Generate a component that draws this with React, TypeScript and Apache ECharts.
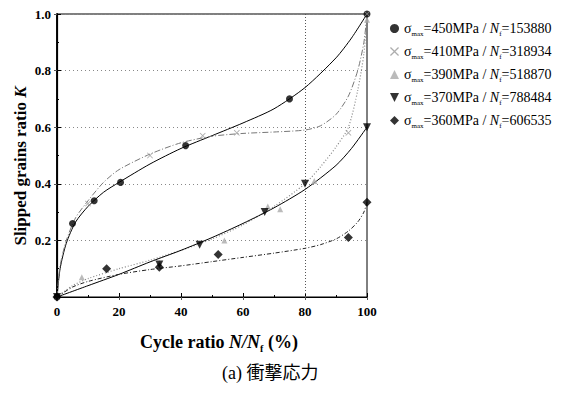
import React, { useEffect, useRef } from "react";
import * as echarts from "echarts";

// ---- data ----
const stressLabels = ["450", "410", "390", "370", "360"];
const nfLabels = ["153880", "318934", "518870", "788484", "606535"];

const pts450: number[][] = [[0, 0], [5, 0.26], [12, 0.34], [20.5, 0.405], [41.5, 0.535], [75, 0.70], [100, 1.0]];
const pts410: number[][] = [[0, 0], [10, 0.33], [30, 0.50], [47, 0.57], [58, 0.58], [94, 0.58], [100, 1.0]];
const pts390: number[][] = [[0, 0], [8, 0.07], [33, 0.12], [54, 0.20], [68, 0.32], [72, 0.31], [83, 0.41], [100, 0.98]];
const pts370: number[][] = [[0, 0], [33, 0.115], [46, 0.185], [67, 0.30], [80, 0.40], [100, 0.60]];
const pts360: number[][] = [[0, 0], [16, 0.10], [33, 0.105], [52, 0.15], [94, 0.21], [100, 0.335]];

// fitted curves, read at sample positions
const fit450: number[][] = [[0, 0], [1, 0.10], [3, 0.19], [6, 0.265], [10, 0.32], [15, 0.37], [20, 0.405], [30, 0.47], [40, 0.525], [50, 0.57], [60, 0.615], [70, 0.665], [80, 0.74], [90, 0.845], [95, 0.915], [100, 1.0]];
const fit410: number[][] = [[0, 0], [1, 0.11], [3, 0.20], [6, 0.28], [10, 0.34], [15, 0.405], [20, 0.45], [30, 0.505], [40, 0.545], [50, 0.568], [60, 0.578], [70, 0.583], [80, 0.59], [85, 0.605], [90, 0.645], [94, 0.71], [97, 0.80], [99, 0.90], [100, 1.0]];
const fit390: number[][] = [[0, 0], [5, 0.04], [10, 0.065], [20, 0.10], [30, 0.13], [40, 0.165], [50, 0.205], [60, 0.255], [70, 0.32], [80, 0.40], [85, 0.46], [90, 0.53], [94, 0.60], [97, 0.73], [99, 0.86], [100, 1.0]];
const fit370: number[][] = [[0, 0], [10, 0.04], [20, 0.08], [30, 0.124], [40, 0.165], [50, 0.21], [60, 0.26], [70, 0.315], [80, 0.38], [90, 0.465], [95, 0.525], [100, 0.60]];
const fit360: number[][] = [[0, 0], [5, 0.035], [10, 0.055], [20, 0.08], [30, 0.097], [40, 0.11], [50, 0.125], [60, 0.14], [70, 0.155], [80, 0.172], [85, 0.185], [90, 0.205], [94, 0.233], [97, 0.265], [99, 0.30], [100, 0.335]];

const xTicks = [0, 20, 40, 60, 80, 100];
const yTicks = [0, 0.2, 0.4, 0.6, 0.8, 1.0];

const SERIF = "Liberation Serif, Times New Roman, serif";

const crossPath = "path://M0,1L1,0L5,4L9,0L10,1L6,5L10,9L9,10L5,6L1,10L0,9L4,5Z";
const downTri = "path://M0,0L10,0L5,10Z";

export default function App() {
  const ref = useRef<HTMLDivElement>(null);
  useEffect(() => {
    document.body.style.margin = "0";
    if (!ref.current) return;
    const chart = echarts.init(ref.current, undefined, { renderer: "svg" });

    const names = stressLabels.map((s, i) => s + "|" + nfLabels[i]);
    const scatterDefs = [
      { pts: pts450, symbol: "circle", size: 7, color: "#000" },
      { pts: pts410, symbol: crossPath, size: 6, color: "#999" },
      { pts: pts390, symbol: "triangle", size: 6, color: "#aaa" },
      { pts: pts370, symbol: downTri, size: 8, color: "#000" },
      { pts: pts360, symbol: "diamond", size: 9, color: "#000" },
    ];
    const fitDefs = [
      { pts: fit450, color: "#000", type: "solid" as any, w: 1 },
      { pts: fit410, color: "#777", type: [6, 2, 1, 2], w: 1 },
      { pts: fit390, color: "#888", type: [1, 2], w: 1.2 },
      { pts: fit370, color: "#000", type: "solid" as any, w: 1 },
      { pts: fit360, color: "#222", type: [4, 2, 1, 2], w: 1 },
    ];

    const series: any[] = [];
    fitDefs.forEach((f, i) => {
      series.push({
        type: "line",
        name: "fit" + i,
        data: f.pts,
        smooth: 0.25,
        showSymbol: false,
        silent: true,
        lineStyle: { color: f.color, width: f.w, type: f.type },
        z: 2,
      });
    });
    series[0].markLine = {
      silent: true,
      symbol: "none",
      label: { show: false },
      lineStyle: { color: "#555", type: [1, 2], width: 1 },
      data: [{ xAxis: 80 }],
    };
    scatterDefs.forEach((s, i) => {
      series.push({
        type: "scatter",
        name: names[i],
        data: s.pts,
        symbol: s.symbol,
        symbolSize: s.size,
        itemStyle: { color: s.color },
        z: 5,
      });
    });

    chart.setOption({
      animation: false,
      backgroundColor: "#fff",
      grid: { left: 57, right: 196, top: 14, bottom: 104, show: true, borderColor: "#000", borderWidth: 1 },
      legend: {
        data: names,
        orient: "vertical",
        left: 385,
        top: 15,
        itemGap: 6,
        itemWidth: 9,
        itemHeight: 9,
        selectedMode: false,
        formatter: (n: string) => {
          const [s, nf] = n.split("|");
          return `{t|σ}{sub|max}{t|=${s}MPa / }{it|N}{sub|f}{t|=${nf}}`;
        },
        textStyle: {
          fontFamily: SERIF,
          color: "#000",
          fontSize: 14,
          rich: {
            t: { fontFamily: SERIF, fontSize: 14, color: "#000", lineHeight: 16 },
            it: { fontFamily: SERIF, fontSize: 14, fontStyle: "italic", color: "#000", lineHeight: 16 },
            sub: { fontFamily: SERIF, fontSize: 7, color: "#000", padding: [10, 0, 0, 0], lineHeight: 16 },
          },
        },
      },
      xAxis: [
        {
          type: "value",
          min: 0,
          max: 100,
          interval: 20,
          name: "{b|Cycle ratio }{bi|N/N}{sub|f}{b| (%)}",
          nameLocation: "middle",
          nameGap: 34,
          nameTextStyle: {
            padding: [0, 0, 0, 14],
            rich: {
              b: { fontFamily: SERIF, fontSize: 18, fontWeight: "bold", color: "#000" },
              bi: { fontFamily: SERIF, fontSize: 18, fontWeight: "bold", fontStyle: "italic", color: "#000" },
              sub: { fontFamily: SERIF, fontSize: 10, fontWeight: "bold", color: "#000", padding: [12, 0, 0, 0] },
            },
          },
          axisLine: { lineStyle: { color: "#000", width: 1.2 } },
          axisTick: { inside: true, length: 4, lineStyle: { color: "#000" } },
          minorTick: { show: true, splitNumber: 2, length: 2, lineStyle: { color: "#000" } },
          splitLine: { show: false },
          axisLabel: {
            fontFamily: SERIF,
            fontWeight: "bold",
            fontSize: 13,
            color: "#000",
            margin: 8,
            formatter: (v: number) => (xTicks.includes(v) ? String(v) : ""),
          },
        },
        {
          type: "value",
          position: "top",
          min: 0,
          max: 100,
          interval: 20,
          axisLine: { show: true, lineStyle: { color: "#000" } },
          axisTick: { inside: true, length: 3, lineStyle: { color: "#555" } },
          axisLabel: { show: false },
          splitLine: { show: false },
        },
      ],
      yAxis: [
        {
          type: "value",
          min: 0,
          max: 1,
          interval: 0.2,
          axisLine: { show: true, lineStyle: { color: "#000", width: 1.2 } },
          axisTick: { inside: true, length: 4, lineStyle: { color: "#000" } },
          minorTick: { show: true, splitNumber: 2, length: 2, lineStyle: { color: "#000" } },
          splitLine: { show: true, lineStyle: { color: "#888", type: [1, 3], width: 1 } },
          axisLabel: {
            fontFamily: SERIF,
            fontWeight: "bold",
            fontSize: 13,
            color: "#000",
            margin: 6,
            formatter: (v: number) => (v === 0 || !yTicks.includes(Math.round(v * 10) / 10) ? "" : v.toFixed(1)),
          },
        },
        {
          type: "value",
          position: "right",
          min: 0,
          max: 1,
          interval: 0.2,
          axisLine: { show: true, lineStyle: { color: "#000", width: 1.8 } },
          axisTick: { inside: true, length: 3, lineStyle: { color: "#555" } },
          axisLabel: { show: false },
          splitLine: { show: false },
        },
      ],
      graphic: [
        {
          type: "text",
          x: 20,
          y: 166,
          rotation: Math.PI / 2,
          style: {
            text: "{b|Slipped grains ratio }{bi|K}",
            align: "center",
            verticalAlign: "middle",
            rich: {
              b: { fontFamily: SERIF, fontSize: 17, fontWeight: "bold", fill: "#000" } as any,
              bi: { fontFamily: SERIF, fontSize: 17, fontWeight: "bold", fontStyle: "italic", fill: "#000" } as any,
            },
          },
        },
        {
          type: "text",
          left: 222,
          top: 364,
          style: {
            text: "(a) 衝撃応力",
            fontFamily: "Liberation Serif, Noto Sans CJK JP, serif",
            fontSize: 18,
            fill: "#000",
          },
        },
      ],
      series,
    });
    return () => chart.dispose();
  }, []);
  return <div ref={ref} style={{ width: 563, height: 401 }} />;
}
